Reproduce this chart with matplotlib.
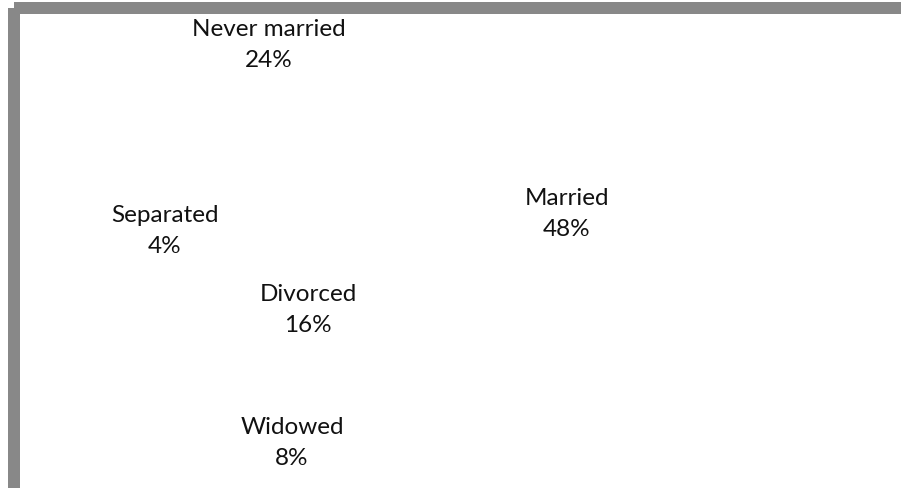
import matplotlib
matplotlib.use("Agg")
import matplotlib.pyplot as plt
from matplotlib.patches import Rectangle

categories = ["Married", "Widowed", "Divorced", "Separated", "Never married"]
values = [48, 8, 16, 4, 24]

# label block centres in figure pixels (x, y from top)
label_pos = [(567, 214), (292, 443), (308, 310), (164.5, 231), (269, 45)]

W, H = 901, 489
fig = plt.figure(figsize=(W / 100, H / 100), dpi=100)
fig.patch.set_facecolor("white")

ax = fig.add_axes([0.1, 0.05, 0.6, 0.9])
ax.pie(values, startangle=90, counterclock=False,
       colors=["white"] * len(values), wedgeprops=dict(linewidth=0))
ax.set_aspect("equal")
ax.axis("off")

for cat, val, (px, py) in zip(categories, values, label_pos):
    fig.text(px / W, 1 - py / H, f"{cat}\n{val}%", ha="center", va="center",
             fontsize=17.5, family=["Lato", "DejaVu Sans"], color="#111111",
             linespacing=1.55)

border = Rectangle((14 / W, 1 - 9 / H), 1.2, -1.2, transform=fig.transFigure,
                   fill=False, edgecolor="#888888", linewidth=12 * 0.72,
                   joinstyle="round", clip_on=False)
fig.patches.append(border)

fig.savefig("out.png", dpi=100, facecolor="white")
